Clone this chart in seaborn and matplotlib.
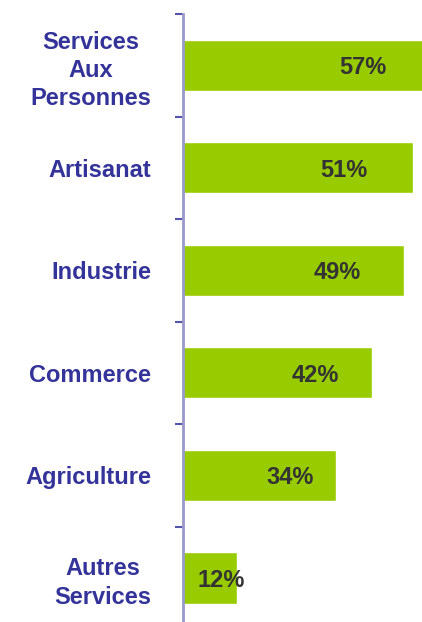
import matplotlib
matplotlib.use("Agg")
import matplotlib.pyplot as plt
import seaborn as sns
import pandas as pd
from matplotlib.ticker import FixedLocator

# data
categories = ["Services\nAux\nPersonnes", "Artisanat", "Industrie", "Commerce", "Agriculture", "Autres\nServices"]
values = [57, 51, 49, 42, 34, 12]

df = pd.DataFrame({"secteur": categories, "pct": values})

sns.set_style("white")
plt.rcParams["font.family"] = ["Liberation Sans", "DejaVu Sans"]

fig = plt.figure(figsize=(4.22, 6.22), dpi=100)
ax = fig.add_axes([183 / 422, 0.0, 1 - 183 / 422, 1 - 14 / 622])

sns.barplot(data=df, x="pct", y="secteur", orient="h", color="#99CC00",
            saturation=1, width=0.5, ax=ax)

ax.set_xlim(0, 53)
ax.set_ylim(5.43, -0.5)

# value labels inside the bars
for i, v in enumerate(values):
    ax.text(v * 0.7, i, f"{v}%", ha="center", va="center_baseline",
            fontsize=17, fontweight="bold", color="#333333", clip_on=False)

# category labels on minor ticks, boundary ticks on major
ax.yaxis.set_major_locator(FixedLocator([i - 0.5 for i in range(len(categories) + 1)]))
ax.set_yticklabels([])
ax.yaxis.set_minor_locator(FixedLocator(list(range(len(categories)))))
ax.set_yticklabels(categories, minor=True, fontsize=17, fontweight="bold",
                   color="#333399", multialignment="center", linespacing=1.3)
ax.tick_params(axis="y", which="major", left=True, length=6, width=1.5,
               color="#5555aa", direction="out")
ax.tick_params(axis="y", which="minor", left=True, length=0, pad=23)

ax.set_xlabel("")
ax.set_ylabel("")
ax.set_xticks([])
for s in ["top", "right", "bottom"]:
    ax.spines[s].set_visible(False)
ax.spines["left"].set_color("#9999cc")
ax.spines["left"].set_linewidth(2)

fig.savefig("out.png", dpi=100)
